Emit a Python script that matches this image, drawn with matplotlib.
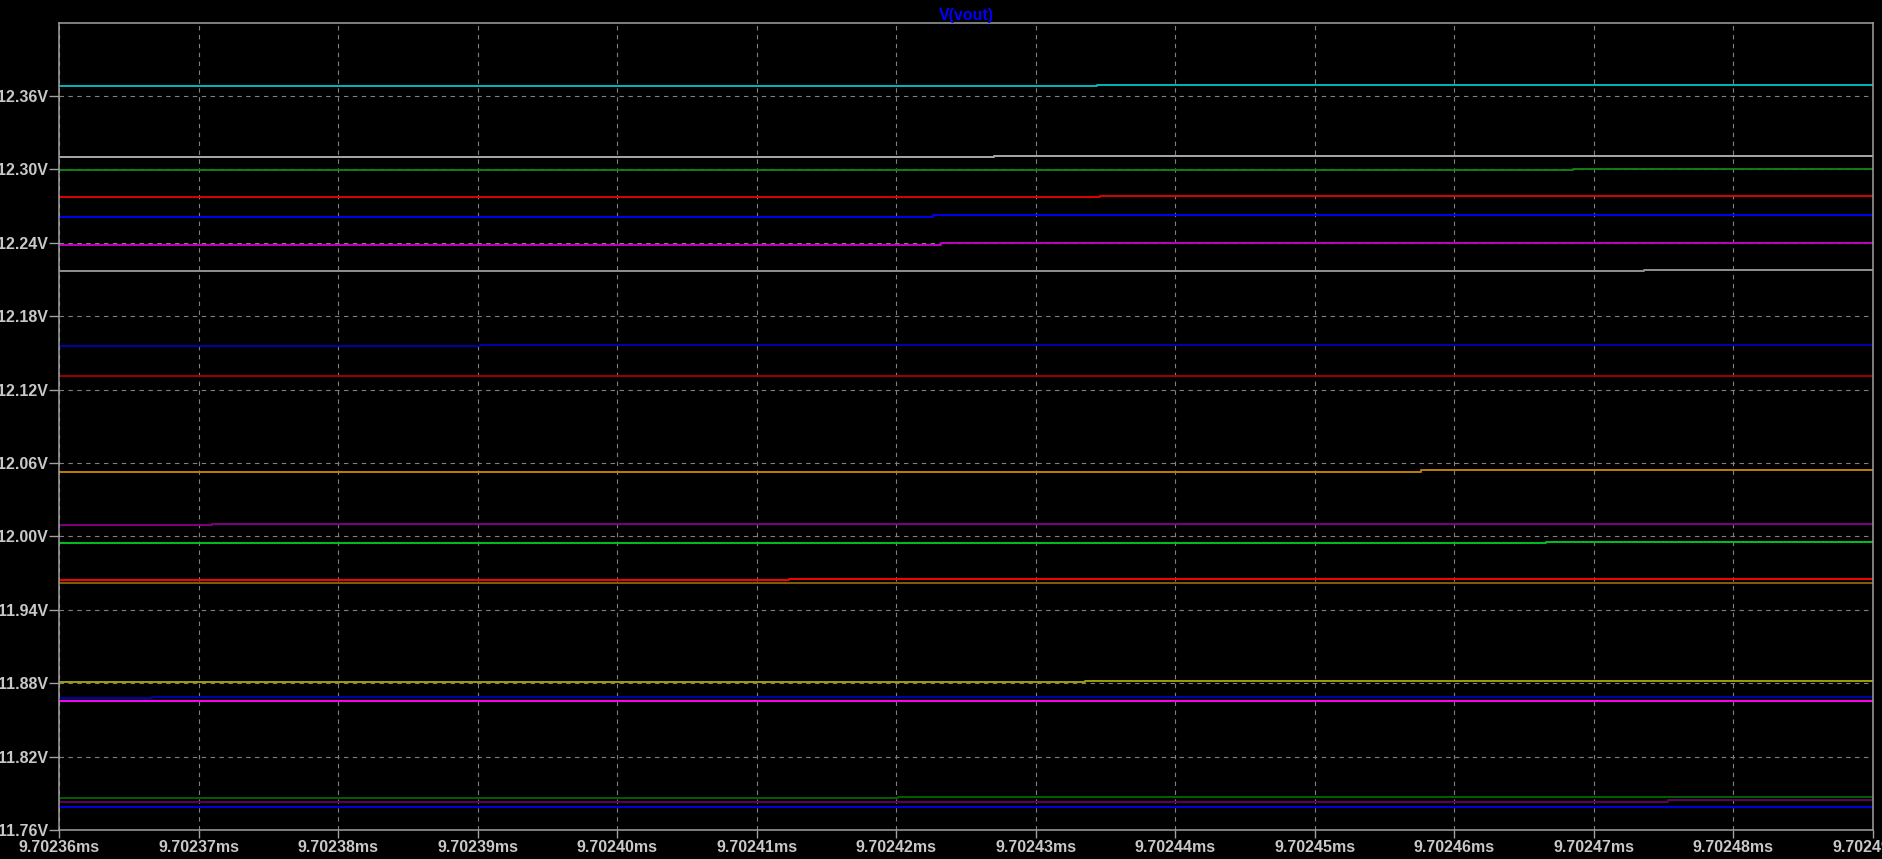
import numpy as np
import matplotlib
matplotlib.use('Agg')
import matplotlib.pyplot as plt
from matplotlib import font_manager

# ── Styling ───────────────────────────────────────────────────────────────────
# the viewer uses a tall, narrow font; take a narrow face when one is installed
installed = {f.name for f in font_manager.fontManager.ttflist}
if 'Liberation Sans Narrow' in installed:
    font_family, font_size = ['Liberation Sans Narrow', 'DejaVu Sans'], 13.2
else:
    font_family, font_size = ['Liberation Sans', 'DejaVu Sans'], 11.5

plt.rcParams.update({
    'font.family': font_family,
    'font.size': font_size,
    'font.weight': 'bold',
})

t_start, t_end = 9.70236, 9.70249          # ms
x_ticks = np.round(np.arange(9.70236, 9.702491, 0.00001), 5)
y_ticks = np.round(np.arange(11.76, 12.3601, 0.06), 2)

# one trace per stepped run: level before the step, level after, time of step
v_before = [12.3682, 12.3101, 12.2997, 12.2771, 12.2615, 12.2384, 12.2169,
            12.1556, 12.1310, 12.0530, 12.0092, 11.9947, 11.9642, 11.9620,
            11.8808, 11.8679, 11.8656, 11.7864, 11.7827, 11.7789]
v_after  = [12.3692, 12.3112, 12.3005, 12.2782, 12.2629, 12.2395, 12.2180,
            12.1566, 12.1310, 12.0541, 12.0102, 11.9955, 11.9655, 11.9620,
            11.8816, 11.8690, 11.8656, 11.7872, 11.7842, 11.7789]
t_step   = [9.7024344, 9.7024270, 9.7024685, 9.7024346, 9.7024226, 9.7024232,
            9.7024736, 9.7023902, np.nan, 9.7024576, 9.7023710, 9.7024666,
            9.7024123, np.nan, 9.7024335, 9.7023667, np.nan, 9.7024201,
            9.7024753, np.nan]
colors   = ['#00b8b8', '#a8a8a8', '#108010', '#e00000', '#0000f0', '#c000c0',
            '#909090', '#0000b0', '#a00000', '#c08000', '#800080', '#00c020',
            '#ff0000', '#806000', '#a0a000', '#0000a8', '#ff00ff', '#006000',
            '#600060', '#0000e0']

# ── Plot ──────────────────────────────────────────────────────────────────────
W, H = 1883, 859
fig = plt.figure(figsize=(W / 100, H / 100), dpi=100, facecolor='black')
left, right, top, bottom = 59, 1873, 22.7, 830
ax = fig.add_axes([left / W, (H - bottom) / H, (right - left) / W, (bottom - top) / H])
ax.set_facecolor('black')

for vb, va, ts, c in zip(v_before, v_after, t_step, colors):
    if np.isnan(ts):
        ax.plot([t_start, t_end], [vb, vb], color=c, lw=1.4, solid_capstyle='butt')
    else:
        ax.plot([t_start, ts, ts, t_end], [vb, vb, va, va], color=c, lw=1.4,
                solid_capstyle='butt')

ax.set_xlim(t_start, t_end)
ax.set_ylim(11.76, 12.42)

ax.set_xticks(x_ticks)
ax.set_xticklabels([f'{v:.5f}ms' for v in x_ticks])
ax.set_yticks(y_ticks)
ax.set_yticklabels([f'{v:.2f}V' for v in y_ticks])

ax.grid(True, color='#808080', linestyle=(0, (4, 4)), linewidth=0.8)
ax.set_axisbelow(True)

for s in ax.spines.values():
    s.set_color('#a0a0a0')
    s.set_linewidth(1.1)

ax.tick_params(axis='y', direction='out', length=7, width=1, color='#a0a0a0',
               labelcolor='#c8c8c8', pad=1)
ax.tick_params(axis='x', direction='out', length=6, width=1, color='#a0a0a0',
               labelcolor='#c8c8c8', pad=1)

ax.set_title('V(vout)', color='#0000ff', fontsize=font_size, fontweight='bold', pad=2)

fig.savefig('out.png', dpi=100, facecolor='black')
